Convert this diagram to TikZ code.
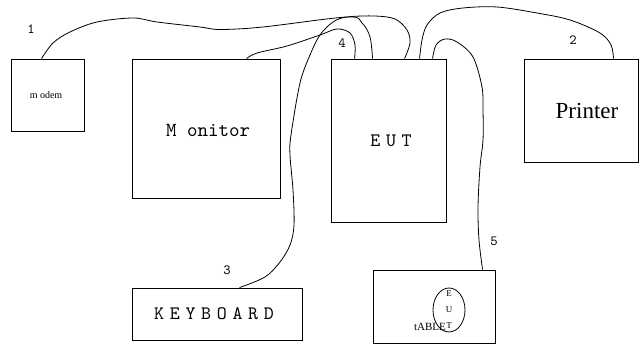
\documentclass[tikz,border=0pt]{standalone}
\usepackage{fontspec}
\setmainfont{Liberation Serif}
\newfontfamily\ttlm{lmmono10-regular}[Extension=.otf]
\newfontfamily\ttlmsp{lmmono10-regular}[Extension=.otf, LetterSpace=30]
\usetikzlibrary{calc}
\tikzset{
  box/.style={draw, line width=0.9pt, inner sep=0pt},
  wire/.style={draw, line width=0.8pt, line join=round},
  num/.style={font=\ttlm\fontsize{14}{14}\selectfont, inner sep=0pt},
}
\begin{document}
\begin{tikzpicture}[x=1pt,y=-1pt]
\useasboundingbox (0,0) rectangle (640,344);
% boxes
\node[box, minimum width=73pt, minimum height=72pt] (modem) at (47.5,95) {};
\node[box, minimum width=148pt, minimum height=139pt] (monitor) at (206,128.5) {};
\node[box, minimum width=115pt, minimum height=163pt] (eut) at (388.5,140.5) {};
\node[box, minimum width=114pt, minimum height=103pt] (printer) at (581,110.5) {};
\node[box, minimum width=170pt, minimum height=52pt] (keyboard) at (217,314) {};
\node[box, minimum width=122pt, minimum height=73pt] (tablet) at (434,306.5) {};
% labels
\node[font=\fontsize{10}{10}\selectfont] (modemtxt) at (46,95) {m odem};
\node[font=\ttlm\fontsize{20}{20}\selectfont] (montxt) at (208,130) {M onitor};
\node[font=\ttlmsp\fontsize{19}{19}\selectfont] (euttxt) at (391,141) {EUT};
\node[font=\fontsize{23}{23}\selectfont] (prtxt) at (587,111) {Printer};
\node[font=\ttlmsp\fontsize{19}{19}\selectfont] (kbtxt) at (214,314) {KEYBOARD};
\draw[line width=0.8pt] (449,310) ellipse [x radius=16, y radius=22];
\node[font=\fontsize{9}{9}\selectfont, inner sep=0pt] (e1) at (449,294) {E};
\node[font=\fontsize{9}{9}\selectfont, inner sep=0pt] (e2) at (449,310) {U};
\node[font=\fontsize{9}{9}\selectfont, inner sep=0pt] (e3) at (449,326) {T};
\node[font=\fontsize{11}{11}\selectfont, inner sep=0pt] (tabtxt) at (430,327) {tABLE};
% numbers
\node[num] (n1) at (31,29) {1};
\node[num] (n2) at (573,40) {2};
\node[num] (n3) at (227,270) {3};
\node[num] (n4) at (342,43) {4};
\node[num] (n5) at (494,241) {5};
% connector end points
\coordinate (mA) at ([xshift=31pt]modem.north west);
\coordinate (eA) at ([xshift=42pt]eut.north west);
\coordinate (mo) at ([xshift=115pt]monitor.north west);
\coordinate (eB) at ([xshift=24pt]eut.north west);
\coordinate (kb) at ([xshift=108pt]keyboard.north west);
\coordinate (eC) at ([xshift=74pt]eut.north west);
\coordinate (eD) at ([xshift=89pt]eut.north west);
\coordinate (pr) at ([xshift=90pt]printer.north west);
\coordinate (eE) at ([xshift=102pt]eut.north west);
\coordinate (tb) at ([xshift=110pt]tablet.north west);
% wires
\draw[wire] plot[smooth, tension=0.55] coordinates {(mA) (53,43) (70,32) (97,22) (133,18) (157,22) (200,27) (220,29.5) (263,27) (347,17) (362,23) (370,37) (eA)};
\draw[wire] plot[smooth, tension=0.55] coordinates {(mo) (257,53) (287,46) (320,35) (337,29) (350,33) (355,45) (eB)};
\draw[wire] plot[smooth, tension=0.55] coordinates {(kb) (265,277) (280,262) (290,245) (294,225) (293,190) (290,155) (291,135) (300,83) (310,55) (320,35) (333,22) (347,17) (375,16) (395,19) (407,30) (410,43) (eC)};
\draw[wire] plot[smooth, tension=0.55] coordinates {(eD) (422,40) (427,25) (440,13) (463,8) (497,7) (537,13) (570,20) (600,33) (611,45) (pr)};
\draw[wire] plot[smooth, tension=0.55] coordinates {(eE) (436,45) (445,39) (457,42) (473,57) (482,87) (483,110) (483,140) (480,167) (478,207) (479,240) (tb)};
\end{tikzpicture}
\end{document}
